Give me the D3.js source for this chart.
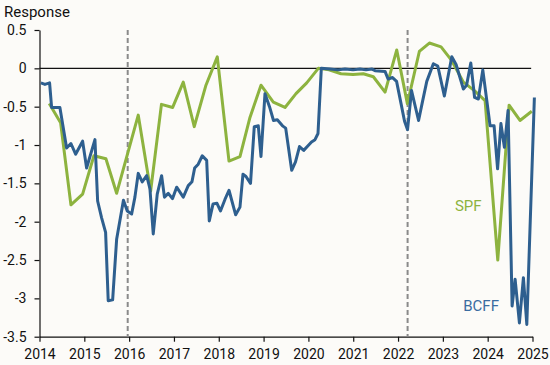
<!DOCTYPE html>
<html>
<head>
<meta charset="utf-8">
<script src="https://cdn.jsdelivr.net/npm/d3@7"></script>
<style>
  html, body { margin: 0; padding: 0; background: #fcfbf8; }
  svg { display: block; font-family: Roboto, "Noto Sans", sans-serif; }
</style>
</head>
<body>
<svg id="chart" width="550" height="365"></svg>
<script>
// ---- Data (decimal year, value) ----
const bcffDates = [2014.031, 2014.121, 2014.225, 2014.270, 2014.455, 2014.605, 2014.701, 2014.806, 2014.962, 2015.051,
  2015.237, 2015.297, 2015.386, 2015.475, 2015.533, 2015.632, 2015.721, 2015.873, 2015.958, 2016.056,
  2016.129, 2016.203, 2016.292, 2016.391, 2016.464, 2016.538, 2016.627, 2016.725, 2016.788, 2016.873,
  2016.967, 2017.060, 2017.208, 2017.319, 2017.402, 2017.462, 2017.542, 2017.632, 2017.730, 2017.788,
  2017.871, 2017.960, 2018.038, 2018.138, 2018.228, 2018.377, 2018.473, 2018.540, 2018.607, 2018.708,
  2018.792, 2018.882, 2018.942, 2019.031, 2019.132, 2019.221, 2019.306, 2019.422, 2019.493, 2019.627,
  2019.712, 2019.801, 2019.895, 2019.991, 2020.069, 2020.147, 2020.214, 2020.288, 2020.480, 2020.660,
  2020.817, 2020.996, 2021.152, 2021.286, 2021.420, 2021.487, 2021.710, 2021.777, 2021.877, 2021.967,
  2022.067, 2022.145, 2022.212, 2022.301, 2022.458, 2022.536, 2022.641, 2022.788, 2022.886, 2023.033,
  2023.199, 2023.295, 2023.458, 2023.529, 2023.623, 2023.708, 2023.792, 2023.891, 2023.980, 2024.054,
  2024.143, 2024.221, 2024.295, 2024.373, 2024.455, 2024.545, 2024.612, 2024.708, 2024.797, 2024.873,
  2025.042];
const bcffValues = [-0.19, -0.21, -0.19, -0.51, -0.51, -1.04, -0.98, -1.12, -0.95, -1.30,
  -0.93, -1.73, -1.95, -2.14, -3.03, -3.02, -2.23, -1.72, -1.86, -1.90,
  -1.68, -1.37, -1.48, -1.40, -1.57, -2.16, -1.64, -1.40, -1.68, -1.63,
  -1.70, -1.55, -1.68, -1.53, -1.48, -1.30, -1.25, -1.14, -1.20, -1.99,
  -1.77, -1.76, -1.86, -1.71, -1.59, -1.91, -1.81, -1.38, -1.41, -1.50,
  -0.76, -0.75, -1.15, -0.33, -0.50, -0.68, -0.67, -0.75, -0.78, -1.33,
  -1.22, -1.02, -1.07, -1.01, -0.96, -0.93, -0.85, 0.00, -0.01, -0.02,
  -0.01, -0.02, -0.01, -0.02, -0.01, -0.03, -0.04, -0.14, -0.12, -0.17,
  -0.46, -0.69, -0.80, -0.29, -0.68, -0.46, -0.17, 0.06, 0.03, -0.36,
  0.15, 0.05, -0.27, -0.22, 0.07, -0.38, -0.40, -0.02, -0.42, -0.75,
  -0.75, -1.31, -0.72, -1.03, -0.55, -3.10, -2.75, -3.32, -2.73, -3.34,
  -0.38];

const spfDates = [2014.217, 2014.471, 2014.701, 2014.962, 2015.214, 2015.482, 2015.721, 2016.203, 2016.480, 2016.721,
  2016.971, 2017.208, 2017.453, 2017.714, 2017.967, 2018.228, 2018.473, 2018.696, 2018.942, 2019.217,
  2019.478, 2019.723, 2019.962, 2020.221, 2020.460, 2020.728, 2020.996, 2021.225, 2021.449, 2021.710,
  2021.971, 2022.208, 2022.475, 2022.699, 2022.960, 2023.199, 2023.458, 2023.703, 2023.942, 2024.225,
  2024.478, 2024.721, 2024.984];
const spfValues = [-0.46, -0.71, -1.78, -1.64, -1.14, -1.18, -1.63, -0.61, -1.60, -0.47,
  -0.51, -0.18, -0.76, -0.22, 0.15, -1.21, -1.15, -0.64, -0.22, -0.44,
  -0.51, -0.33, -0.19, 0.00, -0.02, -0.07, -0.08, -0.07, -0.11, -0.31,
  0.24, -0.46, 0.22, 0.33, 0.28, 0.10, -0.18, -0.29, -0.42, -2.50,
  -0.48, -0.68, -0.56];

const eventDates = [2015.968, 2022.213];
const xTickValues = [2014, 2015, 2016, 2017, 2018, 2019, 2020, 2021, 2022, 2023, 2024, 2025];
const yTickValues = [0.5, 0, -0.5, -1, -1.5, -2, -2.5, -3, -3.5];
const yTitle = "Response";
const seriesNames = ["SPF", "BCFF"];
const labelAnchors = [[2023.27, -1.86], [2023.455, -3.16]];

// ---- Chart ----
const svg = d3.select("#chart");
const x = d3.scaleLinear().domain([2014, 2025]).range([39.5, 532.5]);
const y = d3.scaleLinear().domain([-3.5, 0.5]).range([336.7, 30]);

const blue = "#2e5f8f";
const green = "#8db33f";

const fmt = v => (v < 0 ? "-" : "") + String(Math.abs(v));

// y axis
const gy = svg.append("g").attr("transform", `translate(${x(2014)},0)`)
  .call(d3.axisLeft(y).tickValues(yTickValues).tickFormat(fmt).tickSize(5).tickSizeOuter(0).tickPadding(8));
// x axis
const gx = svg.append("g").attr("transform", `translate(0,${y(-3.5)})`)
  .call(d3.axisBottom(x).tickValues(xTickValues).tickFormat(d3.format("d")).tickSize(5).tickSizeOuter(0).tickPadding(7));

[gx, gy].forEach(g => {
  g.selectAll("text").attr("font-size", 14).attr("fill", "#111").attr("font-family", "Roboto, sans-serif");
  g.selectAll("line, path").attr("stroke", "#111").attr("stroke-width", 1.2);
});

// zero line
svg.append("line")
  .attr("x1", x(2014)).attr("x2", x(2024.97))
  .attr("y1", y(0)).attr("y2", y(0))
  .attr("stroke", "#111").attr("stroke-width", 1.2);

// event dashed lines
svg.selectAll(".evt").data(eventDates).enter().append("line")
  .attr("x1", d => x(d)).attr("x2", d => x(d))
  .attr("y1", y(0.5)).attr("y2", y(-3.5))
  .attr("stroke", "#8a8a8a").attr("stroke-width", 2)
  .attr("stroke-dasharray", "5,3");

const line = d3.line().x(d => x(d[0])).y(d => y(d[1]));

const spf = spfDates.map((d, i) => [d, spfValues[i]]);
const bcff = bcffDates.map((d, i) => [d, bcffValues[i]]);

svg.append("path").datum(spf).attr("d", line)
  .attr("fill", "none").attr("stroke", green).attr("stroke-width", 3)
  .attr("stroke-linejoin", "round");
svg.append("path").datum(bcff).attr("d", line)
  .attr("fill", "none").attr("stroke", blue).attr("stroke-width", 3)
  .attr("stroke-linejoin", "round");

// titles / labels
svg.append("text").attr("x", 4).attr("y", 17).attr("font-size", 15).attr("fill", "#111").text(yTitle);
svg.append("text").attr("x", x(labelAnchors[0][0])).attr("y", y(labelAnchors[0][1]))
  .attr("font-size", 15).attr("fill", "#8db33f").text(seriesNames[0]);
svg.append("text").attr("x", x(labelAnchors[1][0])).attr("y", y(labelAnchors[1][1]))
  .attr("font-size", 15).attr("fill", "#3a6ca0").text(seriesNames[1]);
</script>
</body>
</html>
